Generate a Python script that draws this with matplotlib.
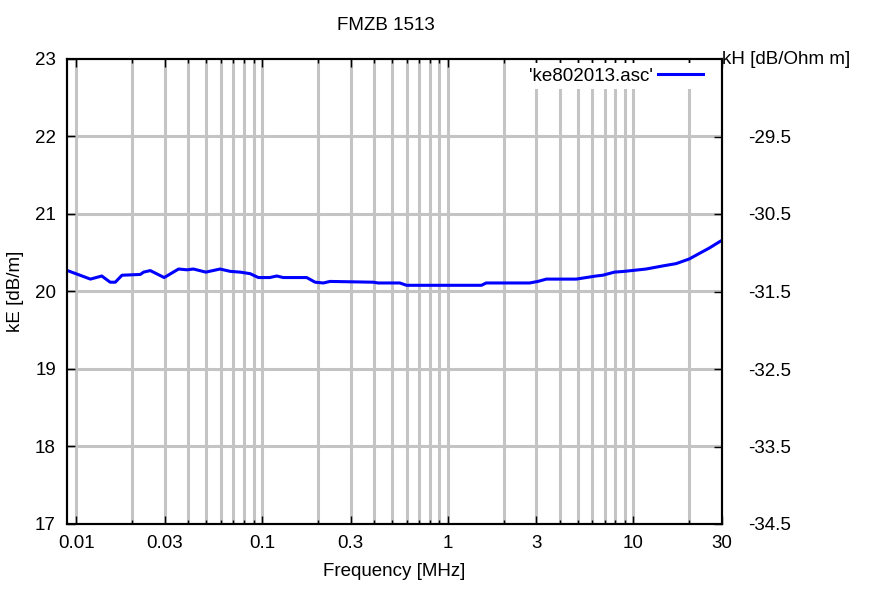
import matplotlib.pyplot as plt
from matplotlib.ticker import FixedLocator, NullFormatter

plt.rcParams['font.family'] = ['Liberation Sans', 'DejaVu Sans']
plt.rcParams['axes.unicode_minus'] = False

# frequency in MHz, kE in dB/m
freq = [0.00895, 0.0119, 0.0137, 0.0152, 0.0162, 0.0176, 0.0221, 0.0230, 0.0250,
        0.0297, 0.0355, 0.0394, 0.0427, 0.0498, 0.0594, 0.0673, 0.0762, 0.0862,
        0.0955, 0.110, 0.120, 0.130, 0.174, 0.193, 0.214, 0.232, 0.397, 0.422,
        0.552, 0.600, 1.52, 1.61, 2.76, 3.06, 3.40, 4.92, 6.30, 6.84, 7.90,
        8.95, 11.7, 14.4, 17.0, 20.0, 22.6, 25.6, 29.0, 30.0]
kE = [20.27, 20.16, 20.20, 20.12, 20.12, 20.21, 20.22, 20.25, 20.27,
      20.18, 20.29, 20.28, 20.29, 20.25, 20.29, 20.26, 20.25, 20.23,
      20.18, 20.18, 20.20, 20.18, 20.18, 20.12, 20.11, 20.13, 20.12, 20.11,
      20.11, 20.08, 20.08, 20.11, 20.11, 20.13, 20.16, 20.16, 20.20, 20.21, 20.25,
      20.26, 20.29, 20.33, 20.36, 20.42, 20.49, 20.56, 20.64, 20.66]

xticks = [0.01, 0.03, 0.1, 0.3, 1, 3, 10, 30]
xtick_labels = ['0.01', '0.03', '0.1', '0.3', '1', '3', '10', '30']
grid_x = [m * 10.0 ** e for e in range(-2, 2) for m in range(1, 10)]
grid_x = [g for g in grid_x if g <= 20]
yticks_left = [17, 18, 19, 20, 21, 22, 23]
yticks_right = [-34.5, -33.5, -32.5, -31.5, -30.5, -29.5]
offset = 51.5  # kH = kE - offset

fs = 13.5
fig = plt.figure(figsize=(8.7, 6.03), dpi=100)
ax = fig.add_axes([67 / 870, 1 - 524 / 603, 655 / 870, 465 / 603])

grid_kw = dict(color='#c4c4c4', lw=2.2, zorder=0)
for g in grid_x:
    ax.axvline(g, **grid_kw)
for y in yticks_left[1:-1]:
    ax.axhline(y, **grid_kw)

ax.plot(freq, kE, color='#0000ff', lw=2.2, label="'ke802013.asc'", zorder=3)

ax.set_xscale('log')
ax.set_xlim(0.0089, 30)
ax.set_ylim(17, 23)
ax.set_xticks(xticks)
ax.set_xticklabels(xtick_labels)
ax.xaxis.set_minor_locator(FixedLocator(grid_x))
ax.xaxis.set_minor_formatter(NullFormatter())
ax.set_yticks(yticks_left)
ax.tick_params(axis='both', which='major', direction='in', length=6, width=1,
               labelsize=fs, top=True, pad=8)
ax.tick_params(axis='x', which='minor', direction='in', length=3, width=1, top=True)
ax.tick_params(axis='y', which='major', pad=8)
for s in ax.spines.values():
    s.set_linewidth(1.5)

ax2 = ax.twinx()
ax2.set_ylim(17 - offset, 23 - offset)
ax2.set_yticks(yticks_right)
ax2.tick_params(axis='y', direction='in', length=6, width=1, labelsize=fs, pad=19)
for s in ax2.spines.values():
    s.set_linewidth(1.5)

ax.set_xlabel('Frequency [MHz]', fontsize=fs, labelpad=8)
ax.set_ylabel('kE [dB/m]', fontsize=fs, labelpad=8)
fig.text(722 / 870, 1 - 60 / 603, 'kH [dB/Ohm m]', fontsize=fs, ha='left', va='center')
fig.text(386 / 870, 1 - 25 / 603, 'FMZB 1513', fontsize=fs, ha='center', va='center')

leg = ax.legend(loc='upper right', markerfirst=False, fontsize=fs, frameon=True,
                handlelength=2.4, handletextpad=0.3, borderaxespad=0.2,
                borderpad=0.25, bbox_to_anchor=(0.984, 1.0))
leg.get_frame().set_edgecolor('none')
leg.get_frame().set_facecolor('white')
leg.get_frame().set_alpha(1)
leg.set_zorder(5)

fig.savefig('out.png', dpi=100)
